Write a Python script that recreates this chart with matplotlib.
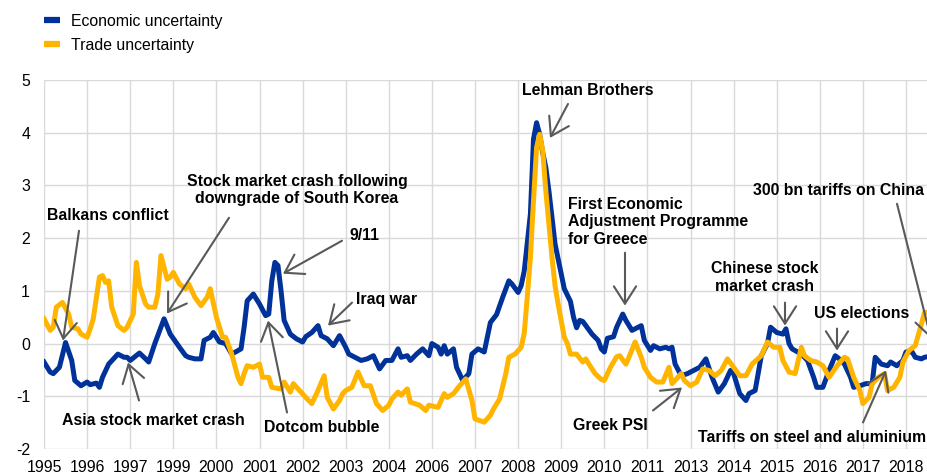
import matplotlib
matplotlib.use("Agg")
import matplotlib.pyplot as plt
from matplotlib.lines import Line2D

plt.rcParams['font.family'] = ['Liberation Sans', 'DejaVu Sans']

# months since July 1995
econ_month = [0, 2, 3, 5, 7, 9, 10, 12, 14, 15, 17, 18, 19, 21, 24, 26, 27, 28, 31, 33, 34, 36, 38, 39, 41,
              44, 46, 47, 49, 51, 52, 54, 55, 57, 59, 61, 64, 65, 66, 68, 70, 72, 73, 74, 75, 76, 77, 78,
              80, 82, 84, 85, 87, 89, 90, 92, 94, 96, 98, 99, 102, 103, 105, 107, 109, 111, 113, 115, 116,
              118, 119, 121, 123, 125, 126, 128, 129, 130, 131, 133, 134, 136, 138, 139, 141, 143, 144, 145,
              147, 149, 151, 152, 154, 155, 156, 158, 159, 160, 161, 162, 163, 164, 166, 168, 169, 171, 172,
              173, 174, 175, 176, 178, 180, 181, 182, 183, 185, 186, 188, 189, 191, 194, 195, 197, 198, 200,
              202, 203, 204, 205, 207, 209, 211, 213, 215, 217, 219, 221, 223, 224, 226, 228, 229, 231, 233,
              235, 236, 238, 240, 241, 242, 243, 246, 248, 250, 251, 253, 255, 257, 259, 260, 262, 263, 265,
              267, 269, 270, 272, 274, 275, 277, 279, 280, 282, 283, 285, 286, 288]
econ_value = [-0.35, -0.54, -0.57, -0.45, 0.02, -0.32, -0.70, -0.80, -0.73, -0.78, -0.75, -0.83, -0.64, -0.39,
              -0.20, -0.26, -0.26, -0.32, -0.18, -0.29, -0.35, 0.00, 0.31, 0.47, 0.18,
              -0.07, -0.23, -0.26, -0.29, -0.29, 0.06, 0.12, 0.21, 0.03, 0.00, -0.20, -0.10, 0.31, 0.81, 0.94,
              0.75, 0.53, 0.56, 1.19, 1.54, 1.48, 1.00, 0.44,
              0.18, 0.09, 0.03, 0.13, 0.21, 0.34, 0.15, 0.09, -0.04, 0.15, -0.07, -0.20, -0.29, -0.32, -0.29,
              -0.23, -0.48, -0.32, -0.32, -0.10, -0.26,
              -0.23, -0.32, -0.20, -0.10, -0.23, 0.00, -0.07, -0.20, -0.04, -0.20, -0.10, -0.45, -0.70, -0.57,
              -0.20, -0.10, -0.16, 0.12, 0.40,
              0.55, 0.88, 1.19, 1.13, 0.97, 1.10, 1.38, 2.46, 3.88, 4.19, 3.97, 3.62, 3.34, 2.90, 1.89, 1.32,
              1.04, 0.80, 0.50,
              0.30, 0.44, 0.42, 0.34, 0.18, 0.06, -0.10, -0.16, 0.10, 0.13, 0.31, 0.56, 0.44, 0.25, 0.34, 0.06,
              -0.13, -0.04, -0.10,
              -0.07, -0.10, -0.07, -0.39, -0.61, -0.57, -0.51, -0.45, -0.29, -0.64, -0.92, -0.76, -0.51, -0.57,
              -0.95, -1.08, -0.95, -0.89, -0.23,
              0.00, 0.31, 0.21, 0.18, 0.28, 0.00, -0.10, -0.20, -0.32, -0.64, -0.83, -0.83, -0.51, -0.23, -0.32,
              -0.39, -0.64, -0.83, -0.80,
              -0.76, -0.76, -0.26, -0.39, -0.42, -0.35, -0.42, -0.32, -0.16, -0.16, -0.26, -0.29, -0.26, -0.24]

trade_month = [0, 2, 3, 4, 6, 8, 9, 11, 12, 14, 15, 16, 18, 19, 20, 21, 22, 24, 26, 27, 29, 30, 31, 33, 34,
               36, 37, 38, 40, 41, 42, 44, 46, 47, 49, 51, 53, 54, 56, 58, 59, 61, 63, 64, 65, 66, 68, 70, 71,
               73, 74, 77, 78, 80, 81, 83, 85, 87, 89, 91, 92, 94, 96, 97, 98, 100, 102, 104, 106, 108, 110,
               112, 113, 115, 116, 118, 119, 122, 124, 125, 128, 130, 131, 133, 135, 137, 139, 140, 143, 145,
               146, 148, 150, 151, 153, 155, 156, 157, 158, 159, 160, 161, 162, 163, 165, 166, 167, 168, 169,
               170, 171, 173, 175, 176, 177, 179, 181, 182, 184, 186, 187, 189, 190, 192, 194, 195, 197, 199,
               201, 203, 204, 207, 208, 210, 212, 214, 216, 218, 220, 222, 224, 226, 228, 230, 233, 235, 237,
               239, 240, 242, 244, 246, 247, 249, 251, 253, 255, 258, 260, 261, 263, 265, 266, 268, 269, 271,
               273, 274, 276, 278, 279, 281, 283, 285, 286, 288]
trade_value = [0.47, 0.25, 0.31, 0.69, 0.78, 0.56, 0.31, 0.28, 0.18, 0.12, 0.28, 0.47, 1.26, 1.29, 1.16, 1.19,
               0.69, 0.34, 0.25, 0.31, 0.56, 1.54, 1.10, 0.75, 0.69,
               0.69, 0.94, 1.67, 1.22, 1.26, 1.35, 1.13, 1.04, 1.13, 0.88, 0.72, 0.88, 1.04, 0.50, 0.12, 0.12,
               -0.20, -0.64, -0.76, -0.57, -0.42, -0.45, -0.39, -0.64,
               -0.64, -0.83, -0.86, -0.73, -0.92, -0.76, -0.89, -1.02, -1.14, -0.89, -0.61, -1.02, -1.24, -1.08,
               -0.95, -0.89, -0.83, -0.54, -0.80, -0.80, -1.14, -1.27,
               -1.17, -1.05, -0.92, -0.98, -0.86, -1.11, -1.17, -1.27, -1.17, -1.21, -0.95, -1.02, -0.95, -0.80,
               -0.67, -1.08, -1.43, -1.49, -1.36,
               -1.24, -1.05, -0.57, -0.26, -0.20, -0.07, 0.20, 0.90, 1.64, 2.71, 3.72, 3.97, 3.66, 2.90, 1.64,
               1.10, 0.75, 0.44, 0.12,
               0.00, -0.20, -0.20, -0.35, -0.29, -0.39, -0.57, -0.68, -0.70, -0.45, -0.25, -0.23, -0.39, -0.26,
               0.03, -0.26, -0.45, -0.64, -0.73,
               -0.73, -0.45, -0.76, -0.57, -0.70, -0.80, -0.73, -0.48, -0.51, -0.61, -0.51, -0.29, -0.45, -0.61,
               -0.61, -0.39, -0.23, 0.03, -0.07,
               -0.07, -0.32, -0.54, -0.57, -0.07, -0.23, -0.32, -0.35, -0.42, -0.64, -0.39, -0.26, -0.29, -0.64,
               -0.89, -1.14, -1.02, -0.76, -0.64,
               -0.57, -0.89, -0.83, -0.64, -0.35, -0.13, -0.04, 0.37, 0.59, 0.60]

tick_months = [0, 14, 28, 42, 56, 70, 84, 98, 112, 126, 140, 154, 168, 182, 196, 210, 224, 238, 252, 266, 280]
tick_labels = ['1995', '1996', '1997', '1999', '2000', '2001', '2002', '2003', '2004', '2006', '2007',
               '2008', '2009', '2010', '2011', '2013', '2014', '2015', '2016', '2017', '2018']
y_ticks = [-2, -1, 0, 1, 2, 3, 4, 5]
series_names = ['Economic uncertainty', 'Trade uncertainty']

BLUE = '#003299'
YELLOW = '#FFB400'
GRID = '#d9d9d9'
ARROW = '#595959'
FS = 11.4

W, H = 928, 475
fig = plt.figure(figsize=(W / 100, H / 100), dpi=100)
ax = fig.add_axes([44 / W, (H - 449) / H, (W - 44) / W, (449 - 80) / H])

ax.plot(econ_month, econ_value, color=BLUE, lw=3.6, solid_joinstyle='round', zorder=3)
ax.plot(trade_month, trade_value, color=YELLOW, lw=3.6, solid_joinstyle='round', zorder=4)

ax.set_xlim(0, 884 / 3.0786)
ax.set_ylim(-2, 5)
ax.set_xticks(tick_months)
ax.set_xticklabels(tick_labels)
ax.set_yticks(y_ticks)
ax.set_yticklabels([str(v) for v in y_ticks])
ax.tick_params(axis='both', length=0, labelsize=FS, colors='black')
ax.tick_params(axis='y', pad=10)
ax.tick_params(axis='x', pad=8)
ax.grid(True, color=GRID, lw=1.0, zorder=0)
ax.set_axisbelow(True)
for s in ax.spines.values():
    s.set_visible(False)

handles = [Line2D([0], [0], color=BLUE, lw=4.5, solid_capstyle='butt'),
           Line2D([0], [0], color=YELLOW, lw=4.5, solid_capstyle='butt')]
fig.legend(handles, series_names, loc='upper left', bbox_to_anchor=(44 / W, 1 - 14 / H),
           frameon=False, fontsize=FS, handlelength=1.0, handletextpad=0.7,
           labelspacing=0.55, borderpad=0, borderaxespad=0)


def px(x, y):
    """convert reference pixel position to data coordinates"""
    return ((x - 44) / 3.0786, (343 - y) / 52.8)


def note(text, text_xy, tail, tip, ha='center'):
    ax.annotate(text, xy=px(*tip), xytext=px(*text_xy), ha=ha, va='center',
                fontsize=FS, fontweight='bold', annotation_clip=False, zorder=6,
                multialignment=ha if ha != 'center' else 'center')
    ax.annotate('', xy=px(*tip), xytext=px(*tail), annotation_clip=False, zorder=5,
                arrowprops=dict(arrowstyle='->,head_length=1.25,head_width=0.8', mutation_scale=10,
                                lw=1.5, color=ARROW, shrinkA=0, shrinkB=0))


note('Balkans conflict', (108, 215), (79, 230), (63, 340))
note('Stock market crash following\ndowngrade of South Korea', (297, 189), (229, 217), (167, 313))
note('9/11', (365, 235), (342, 240), (283, 273))
note('Iraq war', (387, 299), (352, 302), (328, 325))
note('Asia stock market crash', (153, 420), (139, 400), (128, 362))
note('Dotcom bubble', (322, 427), (287, 412), (268, 320))
note('Lehman Brothers', (588, 90), (568, 103), (550, 137))
note('First Economic\nAdjustment Programme\nfor Greece', (568, 221), (625, 252), (625, 305), ha='left')
note('Chinese stock\nmarket crash', (765, 277), (785, 302), (785, 325))
note('US elections', (862, 313), (837, 328), (837, 350))
note('300 bn tariffs on China', (839, 190), (897, 203), (931, 338))
note('Greek PSI', (610, 425), (653, 410), (682, 387))
note('Tariffs on steel and aluminium', (698, 437), (863, 422), (886, 370), ha='left')

fig.savefig('out.png', dpi=100)
